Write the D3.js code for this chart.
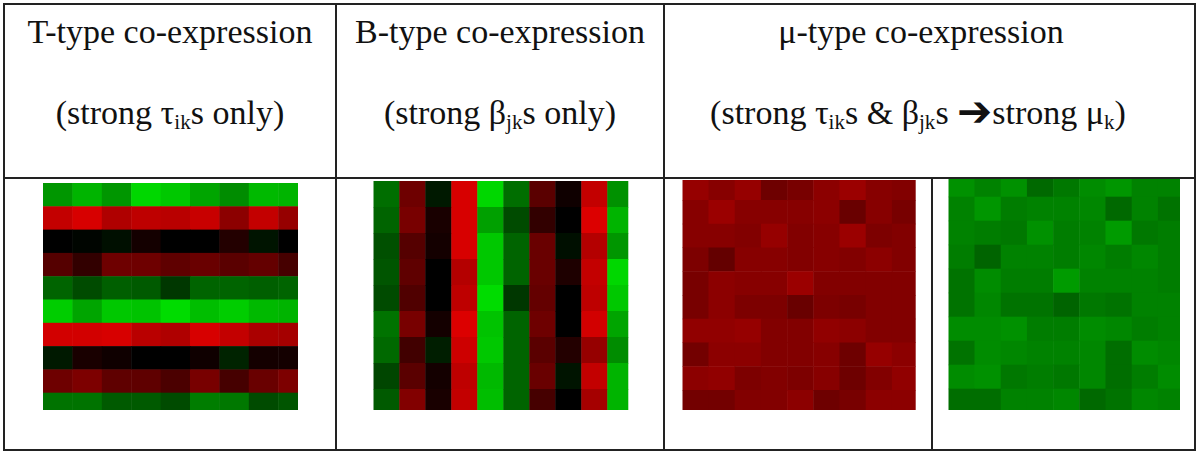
<!DOCTYPE html>
<html><head><meta charset="utf-8">
<script src="https://cdn.jsdelivr.net/npm/d3@7"></script>
<style>body{margin:0;background:#fff}svg{display:block}
.hdr{font-family:"Liberation Serif","Times New Roman","DejaVu Serif",serif;}
.arr{font-family:"DejaVu Sans",sans-serif;}
</style>
</head><body>
<svg id="c" width="1200" height="454"></svg>
<script>
// signed intensity: positive = red, negative = green
const heatT = [
  [-150,-180,-150,-215,-200,-165,-140,-185,-180],
  [195,215,175,190,185,200,140,195,150],
  [0,-5,-15,20,0,0,35,-20,0],
  [85,50,110,110,95,105,90,100,70],
  [-100,-75,-95,-90,-55,-100,-100,-95,-100],
  [-205,-165,-200,-195,-220,-190,-205,-185,-180],
  [210,210,215,185,175,215,195,170,165],
  [-25,25,15,0,0,15,-35,20,20],
  [110,125,95,95,75,120,70,105,125],
  [-115,-115,-90,-90,-75,-125,-120,-75,-85]
];
const heatB = [
  [-110,110,-25,215,-215,-110,90,15,195,-145],
  [-100,120,25,215,-160,-75,50,0,220,-180],
  [-80,85,20,215,-200,-100,105,-15,180,-150],
  [-85,95,0,180,-200,-100,105,30,195,-215],
  [-75,80,0,190,-220,-55,100,0,190,-200],
  [-115,120,20,220,-195,-100,110,0,210,-165],
  [-105,65,-30,205,-200,-100,90,35,150,-140],
  [-70,90,20,190,-185,-100,105,-20,195,-180],
  [-90,130,25,195,-190,-100,70,0,165,-180]
];
const heatMuRed = [
  [150,135,150,110,120,140,155,135,130],
  [135,155,135,135,135,140,105,135,120],
  [135,135,130,150,130,135,155,125,130],
  [125,100,135,135,130,135,130,140,130],
  [120,140,135,135,155,130,130,130,130],
  [120,140,125,125,105,125,120,130,130],
  [145,145,150,130,130,145,140,130,130],
  [115,140,140,130,130,135,110,150,140],
  [140,145,125,130,125,135,110,130,145],
  [115,115,130,130,140,110,120,140,140]
];
const heatMuGreen = [
  [-145,-130,-145,-105,-120,-140,-150,-130,-130],
  [-130,-150,-125,-130,-130,-135,-105,-130,-115],
  [-130,-125,-120,-145,-125,-130,-155,-120,-125],
  [-125,-100,-130,-130,-125,-135,-125,-135,-125],
  [-115,-140,-125,-125,-155,-130,-130,-130,-125],
  [-115,-135,-115,-115,-100,-120,-115,-130,-130],
  [-140,-140,-145,-125,-125,-140,-135,-125,-130],
  [-115,-140,-135,-130,-130,-135,-110,-140,-135],
  [-140,-145,-120,-125,-120,-135,-110,-125,-140],
  [-110,-110,-130,-130,-135,-105,-115,-135,-130]
];

const svg = d3.select("#c");
const color = v => v >= 0 ? d3.rgb(Math.round(v), 0, 0) : d3.rgb(0, Math.round(-v), 0);

const panels = [
  {id:"t", data:heatT, x0:43, cw:29.4, y0:183, rh:23.3, clip:[43,183,298,410]},
  {id:"b", data:heatB, x0:373.3, cw:26, y0:181, rh:26, clip:[373.3,181,628.3,410]},
  {id:"mr", data:heatMuRed, x0:682.3, cw:26.2, y0:176.25, rh:23.75, clip:[682.3,180,915.7,410]},
  {id:"mg", data:heatMuGreen, x0:948.3, cw:26.2, y0:172.7, rh:24, clip:[948.3,179,1180,410]}
];
const defs = svg.append("defs");
panels.forEach(p => {
  const nr = p.data.length, nc = p.data[0].length;
  const x = d3.scaleBand().domain(d3.range(nc)).range([p.x0, p.x0 + nc*p.cw]);
  const y = d3.scaleBand().domain(d3.range(nr)).range([p.y0, p.y0 + nr*p.rh]);
  defs.append("clipPath").attr("id","clip-"+p.id).append("rect")
    .attr("x",p.clip[0]).attr("y",p.clip[1])
    .attr("width",p.clip[2]-p.clip[0]).attr("height",p.clip[3]-p.clip[1]);
  const cells = [];
  p.data.forEach((row,r)=>row.forEach((v,c)=>cells.push({r,c,v})));
  svg.append("g").attr("clip-path","url(#clip-"+p.id+")")
    .selectAll("rect").data(cells).join("rect")
    .attr("x",d=>x(d.c)).attr("y",d=>y(d.r))
    .attr("width",x.bandwidth()+0.5).attr("height",y.bandwidth()+0.5)
    .attr("fill",d=>color(d.v));
});

// table lines
const lines = svg.append("g").attr("stroke","#222").attr("stroke-width",2).attr("fill","none");
lines.append("rect").attr("x",4).attr("y",4).attr("width",1191).attr("height",446);
lines.append("line").attr("x1",4).attr("x2",1195).attr("y1",178).attr("y2",178);
lines.append("line").attr("x1",336).attr("x2",336).attr("y1",4).attr("y2",450);
lines.append("line").attr("x1",664).attr("x2",664).attr("y1",4).attr("y2",450);
lines.append("line").attr("x1",932).attr("x2",932).attr("y1",178).attr("y2",450);

// header text
const fs = 34;
function addText(x, y, parts){
  const t = svg.append("text").attr("class","hdr").attr("x",x).attr("y",y).attr("text-anchor","middle")
    .attr("font-size",fs).attr("fill","#111");
  parts.forEach(p=>{
    const ts = t.append("tspan").text(p.t);
    if(p.sub){ ts.attr("font-size",fs*0.62).attr("baseline-shift","-22%"); }
    if(p.arrow){ ts.attr("class","arr").attr("font-size",42).attr("font-weight","bold").attr("baseline-shift","-4%"); }
  });
}
addText(170,43,[{t:"T-type co-expression"}]);
addText(170,124,[{t:"(strong τ"},{t:"ik",sub:true},{t:"s only)"}]);
addText(500,43,[{t:"B-type co-expression"}]);
addText(500,124,[{t:"(strong β"},{t:"jk",sub:true},{t:"s only)"}]);
addText(921,43,[{t:"μ-type co-expression"}]);
addText(918,124,[{t:"(strong τ"},{t:"ik",sub:true},{t:"s & β"},{t:"jk",sub:true},{t:"s "},{t:"➔",arrow:true},{t:"strong μ"},{t:"k",sub:true},{t:")"}]);
</script>
</body></html>
